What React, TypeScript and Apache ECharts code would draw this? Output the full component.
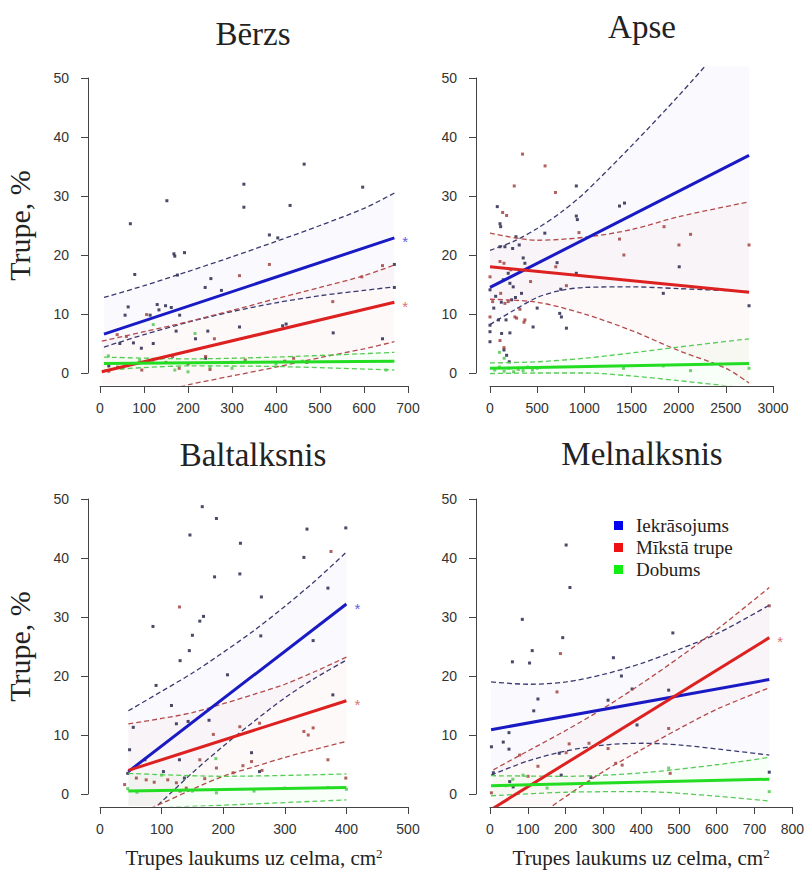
import React, { useEffect, useRef } from "react";
import * as echarts from "echarts";

type Pt = [number, number];

// ---------------- texts / ticks ----------------
const panelTitles = ["Bērzs", "Apse", "Baltalksnis", "Melnalksnis"];
const xMaxes = [700, 3000, 500, 800];
const xIntervals = [100, 500, 100, 100];
const yMin = 0;
const yMax = 50;
const yInterval = 10;
const legendNames = ["Iekrāsojums", "Mīkstā trupe", "Dobums"];
const yAxisTitle = "Trupe, %";
const xAxisTitle = "Trupes laukums uz celma, cm{sup|2}";
// significance stars per panel: [blue, red, green]
const starFlags = [
  [true, true, false],
  [false, false, false],
  [true, true, false],
  [false, true, false],
];

// ---------------- Bērzs ----------------
const berzsBlue: Pt[] = [
  [464, 35.4], [597, 31.5], [327, 32.0], [327, 28.1], [432, 28.4], [152, 29.2], [69, 25.3],
  [385, 23.4], [404, 22.9], [192, 20.4], [168, 20.2], [170, 19.8], [79, 16.7], [176, 16.6],
  [239, 14.5], [252, 16.0], [276, 14.0], [64, 11.2], [57, 9.8], [130, 11.6], [149, 11.4],
  [162, 11.1], [134, 10.7], [181, 9.8], [114, 9.8], [76, 5.1], [45, 5.0], [94, 4.2],
  [121, 5.0], [173, 7.1], [245, 7.1], [217, 5.8], [317, 7.8], [415, 8.0], [423, 8.3],
  [530, 6.8], [642, 5.8], [669, 18.4], [669, 14.5], [20, 1.2], [60, 1.5], [240, 2.5],
];
const berzsRed: Pt[] = [
  [317, 16.5], [385, 18.4], [529, 12.1], [642, 18.2], [595, 16.3], [106, 9.9], [39, 6.5],
  [20, 0.3], [40, 1.0], [70, 1.5], [95, 0.5], [120, 2.2], [150, 1.8], [165, 2.8], [180, 0.8],
  [200, 1.5], [240, 2.8], [250, 0.6], [300, 1.8], [330, 2.2], [420, 2.0], [440, 2.5], [470, 1.8],
  [60, 6.2], [260, 5.8],
];
const berzsGreen: Pt[] = [
  [19, 2.9], [50, 0.8], [90, 2.2], [121, 8.2], [140, 2.5], [170, 0.5], [216, 6.7], [250, 1.0],
  [330, 2.0], [400, 1.5], [460, 2.0], [650, 0.5], [200, 0.2], [300, 0.8],
];
const berzsFits: Pt[][] = [
  [[9, 6.6], [669, 22.9]],
  [[4, 0.2], [669, 12.0]],
  [[9, 1.6], [669, 2.0]],
];
const berzsUpper: Pt[][] = [
  [[9, 12.8], [100, 14.8], [200, 17.2], [300, 19.7], [400, 22.3], [500, 25.0], [600, 27.9], [669, 30.5]],
  [[4, 5.4], [100, 7.0], [200, 8.7], [300, 10.6], [400, 12.6], [500, 14.5], [600, 16.5], [669, 18.3]],
  [[9, 2.7], [200, 2.4], [400, 2.7], [669, 3.5]],
];
const berzsLower: Pt[][] = [
  [[9, 4.4], [100, 6.5], [200, 8.6], [300, 10.4], [400, 11.9], [500, 13.1], [600, 14.0], [669, 14.6]],
  [[4, -5.0], [100, -3.7], [200, -2.0], [300, -0.5], [400, 1.0], [500, 2.6], [600, 4.1], [669, 5.3]],
  [[9, 0.5], [200, 1.2], [400, 1.1], [669, 0.5]],
];

// ---------------- Apse ----------------
const apseBlue: Pt[] = [
  [77, 28.2], [106, 25.3], [113, 24.8], [915, 31.7], [915, 26.6], [926, 26.0], [1373, 28.3],
  [1426, 28.8], [2006, 18.0], [2746, 11.4], [810, 7.6], [739, 10.1], [757, 9.5], [500, 11.0],
  [457, 7.8], [310, 21.7], [352, 19.5], [370, 18.6], [0, 14.1], [0, 8.1], [0, 7.0], [0, 5.3],
  [123, 6.7], [211, 6.8], [148, 3.9], [176, 3.0], [204, 1.9], [915, 16.9], [750, 14.2],
  [581, 23.7], [711, 18.7], [106, 21.4], [158, 21.4], [240, 21.1], [275, 23.1], [193, 16.9],
  [141, 15.8], [211, 15.2], [246, 14.6], [229, 12.4], [334, 13.5], [1837, 13.5], [60, 13.0],
  [170, 9.0], [90, 9.0], [40, 11.0], [120, 12.0], [270, 12.8],
];
const apseRed: Pt[] = [
  [345, 37.1], [584, 35.1], [257, 31.7], [694, 30.6], [134, 27.2], [176, 26.7], [943, 23.8],
  [1373, 22.7], [1419, 20.0], [1845, 24.8], [2126, 23.5], [2003, 21.7], [2746, 21.7], [697, 18.0],
  [0, 16.3], [264, 9.5], [282, 9.3], [317, 10.8], [370, 9.0], [0, 9.5], [158, 11.8], [193, 12.1],
  [113, 13.5], [106, 18.9], [148, 18.6], [28, 12.1], [106, 5.5], [148, 4.3], [430, 15.5],
  [810, 14.8], [360, 8.6], [220, 17.5],
];
const apseGreen: Pt[] = [
  [50, 0.5], [100, 1.0], [150, 0.3], [200, 0.8], [250, 0.2], [300, 0.6], [350, 0.4], [400, 1.0],
  [450, 0.5], [500, 0.8], [100, 3.5], [150, 2.5], [1415, 0.8], [2126, 0.4], [2746, 0.8], [1837, 1.2],
];
const apseFits: Pt[][] = [
  [[0, 14.5], [2746, 36.9]],
  [[0, 18.0], [2746, 13.7]],
  [[0, 0.8], [2746, 1.6]],
];
const apseUpper: Pt[][] = [
  [[0, 20.8], [250, 22.3], [500, 24.5], [750, 27.2], [1000, 30.5], [1500, 38.5], [2000, 47.0], [2500, 56.0], [2746, 60.5]],
  [[0, 23.7], [500, 22.5], [1000, 23.0], [1500, 24.3], [2000, 26.5], [2746, 29.0]],
  [[0, 1.7], [500, 1.9], [1000, 2.5], [1500, 3.4], [2000, 4.4], [2746, 5.8]],
];
const apseLower: Pt[][] = [
  [[0, 8.2], [250, 10.6], [500, 12.8], [750, 14.0], [1000, 14.5], [1500, 14.6], [2000, 14.3], [2746, 13.8]],
  [[0, 12.5], [500, 12.0], [1000, 10.0], [1500, 7.2], [2000, 3.8], [2500, 0.8], [2746, -1.7]],
  [[0, -0.1], [500, 0.0], [1000, 0.0], [1500, -0.5], [2000, -1.3], [2746, -2.6]],
];

// ---------------- Baltalksnis ----------------
const baltBlue: Pt[] = [
  [166, 48.7], [189, 46.7], [146, 43.9], [228, 42.5], [399, 45.1], [336, 44.9], [331, 40.1],
  [186, 36.8], [227, 37.3], [370, 34.9], [262, 33.4], [86, 28.4], [168, 30.1], [162, 29.3],
  [150, 26.9], [145, 24.3], [130, 22.6], [261, 26.8], [346, 26.0], [207, 20.2], [91, 18.4],
  [116, 15.0], [177, 12.5], [124, 11.9], [143, 12.3], [54, 11.3], [378, 16.8], [246, 7.0],
  [129, 5.8], [48, 7.5], [103, 3.8], [137, 2.7], [259, 3.8], [73, 5.8], [45, 3.5],
];
const baltRed: Pt[] = [
  [129, 31.7], [375, 41.1], [162, 5.8], [184, 10.1], [227, 11.4], [331, 10.6], [338, 10.0],
  [346, 11.2], [370, 5.8], [399, 2.7], [259, 12.0], [189, 4.4], [216, 3.6], [232, 4.8],
  [246, 5.5], [40, 1.6], [59, 2.7], [75, 2.4], [88, 2.0], [110, 2.4], [124, 1.9], [140, 1.0],
  [130, 0.5], [170, 2.6], [263, 4.0],
];
const baltGreen: Pt[] = [
  [45, 0.9], [100, 3.2], [150, 0.5], [188, 6.0], [189, 0.2], [250, 0.5], [300, 1.0], [370, 1.1],
  [400, 0.8], [60, 0.3],
];
const baltFits: Pt[][] = [
  [[46, 3.8], [400, 32.2]],
  [[46, 4.0], [400, 15.8]],
  [[46, 0.5], [400, 1.1]],
];
const baltUpper: Pt[][] = [
  [[46, 14.1], [100, 17.4], [150, 20.5], [200, 24.0], [250, 27.7], [300, 31.8], [350, 36.2], [400, 41.0]],
  [[46, 11.9], [100, 12.8], [150, 13.8], [200, 15.3], [250, 16.9], [300, 18.6], [350, 20.8], [400, 23.2]],
  [[46, 3.5], [200, 3.0], [400, 3.4]],
];
const baltLower: Pt[][] = [
  [[46, -6.5], [100, -1.3], [150, 3.6], [200, 8.1], [250, 12.3], [300, 16.3], [350, 19.7], [400, 22.7]],
  [[46, -3.9], [100, -1.6], [150, 0.8], [200, 3.0], [250, 4.6], [300, 6.2], [350, 7.6], [400, 8.9]],
  [[46, -2.5], [200, -1.9], [400, -1.0]],
];

// ---------------- Melnalksnis ----------------
const melnBlue: Pt[] = [
  [200, 42.2], [210, 35.0], [85, 29.6], [191, 26.5], [480, 27.3], [111, 24.3], [59, 22.4],
  [104, 22.2], [324, 23.1], [345, 20.0], [126, 16.1], [115, 14.1], [469, 17.6], [310, 15.9],
  [386, 11.7], [4, 8.0], [35, 8.8], [50, 10.4], [50, 7.6], [9, 3.6], [187, 3.2], [265, 2.8],
  [733, 3.7], [373, 17.8], [182, 6.9], [52, 2.1], [61, 1.2],
];
const melnRed: Pt[] = [
  [185, 23.8], [176, 17.3], [260, 8.6], [208, 8.5], [310, 7.7], [469, 11.1], [330, 5.2],
  [347, 4.9], [473, 3.5], [4, 0.2], [78, 6.6], [126, 4.7], [100, 3.0], [733, 31.9], [200, 7.0],
];
const melnGreen: Pt[] = [
  [87, 3.2], [469, 4.4], [733, 0.4], [42, 1.4], [260, 2.0], [60, 2.5], [150, 1.0],
];
const melnFits: Pt[][] = [
  [[3, 10.9], [733, 19.4]],
  [[9, -2.4], [733, 26.5]],
  [[3, 1.4], [733, 2.5]],
];
const melnUpper: Pt[][] = [
  [[3, 19.0], [100, 18.6], [200, 19.0], [300, 20.3], [400, 22.2], [500, 24.6], [600, 27.3], [733, 32.0]],
  [[9, 4.1], [100, 7.3], [200, 10.8], [300, 14.6], [400, 18.8], [500, 23.3], [600, 28.1], [733, 35.0]],
  [[3, 3.1], [200, 3.0], [400, 3.6], [600, 5.0], [733, 6.2]],
];
const melnLower: Pt[][] = [
  [[3, 3.2], [100, 5.6], [200, 7.3], [300, 8.3], [400, 8.6], [500, 8.3], [600, 7.6], [733, 6.6]],
  [[9, -8.9], [100, -4.9], [200, -0.4], [300, 3.9], [400, 7.6], [500, 11.2], [600, 14.5], [733, 18.0]],
  [[3, -0.3], [200, 0.3], [400, 0.4], [600, -0.4], [733, -1.2]],
];

// ---------------- styling / layout ----------------
const fitColors = ["#1a1ac4", "#dd2020", "#22dd22"];
const pointColors = ["#1c1c44", "#9c3a36", "#4ec44e"];
const ciColors = ["#3a3a70", "#b44a4a", "#55cc55"];
const bandColors = ["rgba(90,90,230,0.032)", "rgba(230,70,70,0.03)", "rgba(60,220,60,0.035)"];
const starColors = ["#6060e0", "#e07070", "#60d060"];
const legendColors = ["#0000ee", "#ee1111", "#11ee11"];

const layout = [
  { x0: 100, x1: 408, yTop: 78, yBot: 373, yLine: 88, xLine: 386, tx: 253, ty: 12 },
  { x0: 490, x1: 773, yTop: 78, yBot: 373, yLine: 476, xLine: 386, tx: 642, ty: 5 },
  { x0: 100, x1: 408, yTop: 499, yBot: 794, yLine: 88, xLine: 807, tx: 253, ty: 433 },
  { x0: 490, x1: 797, yTop: 499, yBot: 794, yLine: 476, xLine: 807, tx: 642, ty: 432 },
];

const panels = [
  { pts: [berzsBlue, berzsRed, berzsGreen], fits: berzsFits, up: berzsUpper, lo: berzsLower },
  { pts: [apseBlue, apseRed, apseGreen], fits: apseFits, up: apseUpper, lo: apseLower },
  { pts: [baltBlue, baltRed, baltGreen], fits: baltFits, up: baltUpper, lo: baltLower },
  { pts: [melnBlue, melnRed, melnGreen], fits: melnFits, up: melnUpper, lo: melnLower },
];

const serif = "Liberation Serif";
const sans = "Liberation Sans";
const axisColor = "#444";

function buildOption() {
  const grid: any[] = [];
  const xAxis: any[] = [];
  const yAxis: any[] = [];
  const series: any[] = [];
  const title: any[] = [];

  // data grids (0..3)
  layout.forEach((L, i) => {
    const xMax = xMaxes[i];
    const sx = (L.x1 - L.x0) / xMax;
    const sy = (L.yBot - L.yTop) / (yMax - yMin);
    const xPad = 0.04 * xMax;
    const yPad = 0.04 * (yMax - yMin);
    grid.push({
      left: L.x0 - xPad * sx,
      top: L.yTop - yPad * sy,
      width: (xMax + 2 * xPad) * sx,
      height: (yMax - yMin + 2 * yPad) * sy,
      containLabel: false,
    });
    xAxis.push({ gridIndex: i, type: "value", min: -xPad, max: xMax + xPad, show: false });
    yAxis.push({ gridIndex: i, type: "value", min: yMin - yPad, max: yMax + yPad, show: false });
  });

  // axis grids (4..7)
  layout.forEach((L, i) => {
    const gi = 4 + i;
    grid.push({ left: L.x0, top: L.yTop, width: L.x1 - L.x0, height: L.yBot - L.yTop, containLabel: false });
    const bottomRow = i >= 2;
    const leftCol = i % 2 === 0;
    xAxis.push({
      gridIndex: gi,
      type: "value",
      min: 0,
      max: xMaxes[i],
      interval: xIntervals[i],
      offset: L.xLine - L.yBot,
      axisLine: { show: true, onZero: false, lineStyle: { color: axisColor, width: 1 } },
      axisTick: { show: true, length: 7, lineStyle: { color: axisColor, width: 1 } },
      splitLine: { show: false },
      axisLabel: {
        margin: 15,
        color: "#333",
        fontSize: 14,
        fontFamily: sans,
        showMinLabel: true,
        showMaxLabel: true,
        hideOverlap: false,
        formatter: (v: number) => String(v),
      },
      name: bottomRow ? xAxisTitle : "",
      nameLocation: "middle",
      nameGap: 40,
      nameTextStyle: {
        fontFamily: serif,
        fontSize: 21,
        color: "#222",
        rich: { sup: { fontFamily: serif, fontSize: 13, color: "#222", verticalAlign: "top", lineHeight: 21 } },
      },
    });
    yAxis.push({
      gridIndex: gi,
      type: "value",
      min: yMin,
      max: yMax,
      interval: yInterval,
      offset: L.x0 - L.yLine,
      axisLine: { show: true, onZero: false, lineStyle: { color: axisColor, width: 1 } },
      axisTick: { show: true, length: 7, lineStyle: { color: axisColor, width: 1 } },
      splitLine: { show: false },
      axisLabel: { margin: 19, color: "#333", fontSize: 14, fontFamily: sans, formatter: (v: number) => String(v) },
      name: leftCol ? yAxisTitle : "",
      nameLocation: "middle",
      nameGap: 54,
      nameRotate: 90,
      nameTextStyle: { fontFamily: serif, fontSize: 30, color: "#222" },
    });
    title.push({
      text: panelTitles[i],
      left: L.tx - 5,
      top: L.ty,
      textAlign: "center",
      textStyle: { fontFamily: serif, fontSize: 33, fontWeight: "normal", color: "#222" },
    });
  });

  // series
  panels.forEach((P, i) => {
    for (let g = 0; g < 3; g++) {
      const upper = P.up[g];
      const lower = P.lo[g];
      series.push({
        type: "custom",
        name: "band" + i + g,
        xAxisIndex: i,
        yAxisIndex: i,
        clip: true,
        silent: true,
        z: 1,
        data: [[upper[0][0], upper[0][1]]],
        renderItem: (_params: any, api: any) => {
          const pts = upper.map((p) => api.coord(p)).concat(lower.slice().reverse().map((p) => api.coord(p)));
          return { type: "polygon", shape: { points: pts }, style: { fill: bandColors[g] } };
        },
      });
    }
    for (let g = 0; g < 3; g++) {
      series.push({
        type: "scatter",
        name: "pts" + i + g,
        xAxisIndex: i,
        yAxisIndex: i,
        symbol: "rect",
        symbolSize: 3,
        silent: true,
        z: 2,
        itemStyle: { color: pointColors[g] },
        data: P.pts[g],
      });
    }
    for (let g = 0; g < 3; g++) {
      [P.up[g], P.lo[g]].forEach((ci, k) => {
        series.push({
          type: "line",
          name: "ci" + i + g + k,
          xAxisIndex: i,
          yAxisIndex: i,
          showSymbol: false,
          smooth: 0.3,
          silent: true,
          z: 3,
          lineStyle: { color: ciColors[g], width: 1.3, type: [5, 3] },
          data: ci,
        });
      });
    }
    for (let g = 0; g < 3; g++) {
      series.push({
        type: "line",
        name: legendNames[g],
        xAxisIndex: i,
        yAxisIndex: i,
        showSymbol: false,
        silent: true,
        z: 4,
        itemStyle: { color: legendColors[g] },
        lineStyle: { color: fitColors[g], width: 3 },
        endLabel: {
          show: starFlags[i][g],
          formatter: "*",
          color: starColors[g],
          fontSize: 15,
          fontFamily: sans,
          distance: 8,
          offset: [0, 4],
        },
        data: P.fits[g],
      });
    }
  });

  return {
    animation: false,
    backgroundColor: "#ffffff",
    textStyle: { fontFamily: serif },
    title,
    grid,
    xAxis,
    yAxis,
    legend: {
      show: true,
      selectedMode: false,
      orient: "vertical",
      left: 609,
      top: 511,
      icon: "rect",
      itemWidth: 9,
      itemHeight: 9,
      itemGap: 3,
      textStyle: {
        fontFamily: serif,
        fontSize: 19,
        color: "#222",
        rich: { t: { fontFamily: serif, fontSize: 19, color: "#222", padding: [0, 0, 0, 8], lineHeight: 17 } },
      },
      formatter: (name: string) => "{t|" + name + "}",
      data: legendNames.map((n, g) => ({ name: n, itemStyle: { color: legendColors[g] } })),
    },
    series,
  };
}

const App: React.FC = () => {
  const ref = useRef<HTMLDivElement>(null);
  useEffect(() => {
    document.body.style.margin = "0";
    const chart = echarts.init(ref.current as HTMLDivElement, null, { renderer: "svg" });
    chart.setOption(buildOption() as any);
    return () => chart.dispose();
  }, []);
  return <div ref={ref} style={{ width: 807, height: 880 }} />;
};

export default App;
